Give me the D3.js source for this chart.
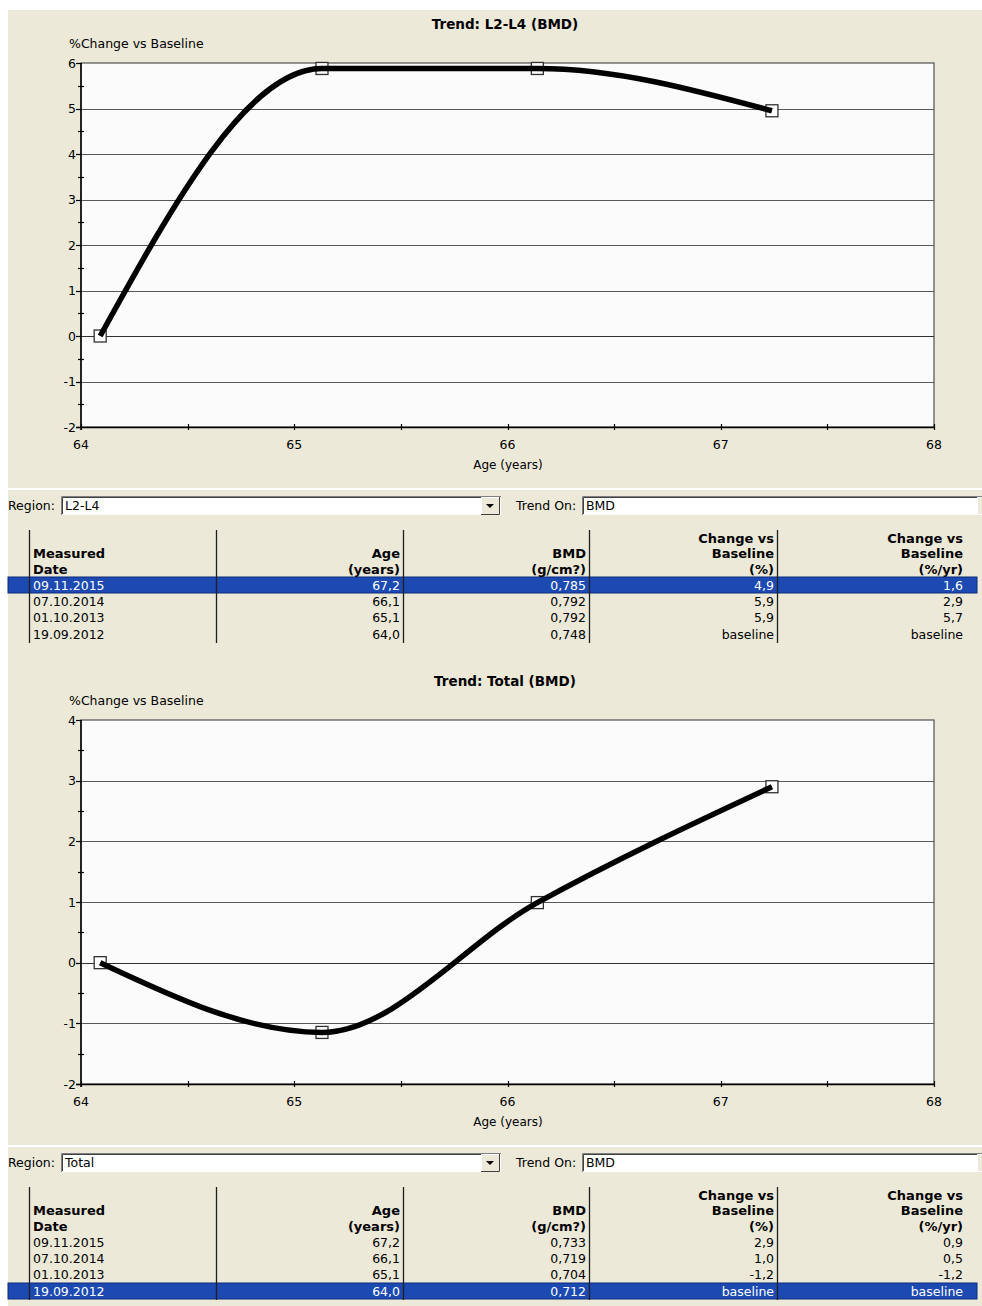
<!DOCTYPE html>
<html>
<head>
<meta charset="utf-8">
<script src="https://cdn.jsdelivr.net/npm/d3@7"></script>
<style>
  html, body { margin: 0; padding: 0; background: #ffffff; }
  svg { display: block; }
  text { font-family: "DejaVu Sans", sans-serif; font-size: 12px; fill: #000; }
  .bold { font-weight: bold; font-size: 13px; }
  .title { font-weight: bold; font-size: 13.5px; }
  .cell { font-size: 12.5px; }
  .lbl { font-size: 12.5px; }
</style>
</head>
<body>
<svg id="chart" width="982" height="1306"></svg>
<script>
// ---------------- DATA ----------------
const ages = [64.09, 65.13, 66.14, 67.24];
const l2l4Change = [0, 5.88, 5.88, 4.95];
const totalChange = [0, -1.15, 0.99, 2.9];
const xTicks = [64, 65, 66, 67, 68];
const l2l4YTicks = [-2, -1, 0, 1, 2, 3, 4, 5, 6];
const totalYTicks = [-2, -1, 0, 1, 2, 3, 4];
const chartTitles = ["Trend: L2-L4 (BMD)", "Trend: Total (BMD)"];
const regions = ["L2-L4", "Total"];
const trendOn = "BMD";
const yAxisTitle = "%Change vs Baseline";
const xAxisTitle = "Age (years)";

const dates = ["09.11.2015", "07.10.2014", "01.10.2013", "19.09.2012"];
const ageLabels = ["67,2", "66,1", "65,1", "64,0"];
const l2l4BMD = ["0,785", "0,792", "0,792", "0,748"];
const l2l4ChangePct = ["4,9", "5,9", "5,9", "baseline"];
const l2l4ChangeYr = ["1,6", "2,9", "5,7", "baseline"];
const totalBMD = ["0,733", "0,719", "0,704", "0,712"];
const totalChangePct = ["2,9", "1,0", "-1,2", "baseline"];
const totalChangeYr = ["0,9", "0,5", "-1,2", "baseline"];
const selectedRow = [0, 3];

const headers = [
  ["Measured", "Date"],
  ["Age", "(years)"],
  ["BMD", "(g/cm?)"],
  ["Change vs", "Baseline", "(%)"],
  ["Change vs", "Baseline", "(%/yr)"]
];

// ---------------- LAYOUT ----------------
const svg = d3.select("#chart");
const BEIGE = "#ECE9D8";
const BLOCK = 657;

svg.append("rect").attr("x", 8).attr("y", 10).attr("width", 974).attr("height", 1296).attr("fill", BEIGE);

function drawChart(off, values, yTicks, yDomain, title) {
  const g = svg.append("g").attr("transform", `translate(0,${off})`);
  const left = 81, right = 934, top = 63, bottom = 427;
  const x = d3.scaleLinear().domain([64, 68]).range([left, right]);
  const y = d3.scaleLinear().domain(yDomain).range([bottom, top]);

  g.append("rect").attr("x", left).attr("y", top).attr("width", right - left).attr("height", bottom - top)
    .attr("fill", "#FBFBFB").attr("stroke", "#505050").attr("stroke-width", 1.2);

  // grid
  g.append("g").selectAll("line").data(yTicks.filter(t => t !== yDomain[0] && t !== yDomain[1])).join("line")
    .attr("x1", left).attr("x2", right)
    .attr("y1", d => Math.round(y(d)) + 0.5).attr("y2", d => Math.round(y(d)) + 0.5)
    .attr("stroke", d => d === 0 ? "#303030" : "#585858").attr("stroke-width", 1.2);

  // y axis
  const yMinor = d3.range(yDomain[0], yDomain[1] + 0.001, 0.5);
  g.append("line").attr("x1", left).attr("x2", left).attr("y1", top).attr("y2", bottom + 3).attr("stroke", "#000").attr("stroke-width", 1.5);
  g.append("g").selectAll("line").data(yMinor).join("line")
    .attr("x1", d => Number.isInteger(d) ? left - 5 : left - 3).attr("x2", d => Number.isInteger(d) ? left + 1 : left + 3)
    .attr("y1", d => Math.round(y(d)) + 0.5).attr("y2", d => Math.round(y(d)) + 0.5)
    .attr("stroke", "#000").attr("stroke-width", 1.2);
  g.append("g").selectAll("text").data(yTicks).join("text")
    .attr("class", "lbl")
    .attr("x", left - 5).attr("y", d => y(d)).attr("dy", "0.36em").attr("text-anchor", "end")
    .text(d => d);

  // x axis
  const xMinor = d3.range(64, 68.001, 0.5);
  g.append("line").attr("x1", left - 5).attr("x2", right).attr("y1", bottom + 0.5).attr("y2", bottom + 0.5).attr("stroke", "#000").attr("stroke-width", 1.5);
  g.append("g").selectAll("line").data(xMinor).join("line")
    .attr("x1", d => Math.round(x(d)) + 0.5).attr("x2", d => Math.round(x(d)) + 0.5)
    .attr("y1", bottom - 3).attr("y2", bottom + 3)
    .attr("stroke", "#000").attr("stroke-width", 1.2);
  g.append("g").selectAll("text").data(xTicks).join("text")
    .attr("class", "lbl")
    .attr("x", d => x(d)).attr("y", bottom + 17).attr("dy", "0.36em").attr("text-anchor", "middle")
    .text(d => d);

  g.append("text").attr("x", 508).attr("y", 465).attr("dy", "0.36em").attr("text-anchor", "middle").text(xAxisTitle);
  g.append("text").attr("class", "lbl").attr("x", 69).attr("y", 43).attr("dy", "0.36em").text(yAxisTitle);
  g.append("text").attr("class", "title").attr("x", 505).attr("y", 24).attr("dy", "0.36em").attr("text-anchor", "middle").text(title);

  const pts = ages.map((a, i) => [a, values[i]]);
  // markers
  g.append("g").selectAll("rect").data(pts).join("rect")
    .attr("x", d => x(d[0]) - 6).attr("y", d => y(d[1]) - 6).attr("width", 12).attr("height", 12)
    .attr("fill", "#fff").attr("stroke", "#303030").attr("stroke-width", 1.3);
  // line
  const line = d3.line().x(d => x(d[0])).y(d => y(d[1])).curve(d3.curveMonotoneX);
  g.append("path").attr("d", line(pts)).attr("fill", "none").attr("stroke", "#000").attr("stroke-width", 5.5).attr("stroke-linejoin", "round");
}

function drawControls(off, region) {
  const g = svg.append("g").attr("transform", `translate(0,${off})`);
  g.append("rect").attr("x", 8).attr("y", 488).attr("width", 974).attr("height", 2).attr("fill", "#fff");
  // Region
  g.append("text").attr("class", "lbl").attr("x", 8).attr("y", 505).attr("dy", "0.36em").text("Region:");
  g.append("rect").attr("x", 61).attr("y", 496).attr("width", 440).attr("height", 19).attr("fill", "#fff");
  g.append("path").attr("d", "M61.5,515 V496.5 H501").attr("fill", "none").attr("stroke", "#808080");
  g.append("path").attr("d", "M62.5,514 V497.5 H500").attr("fill", "none").attr("stroke", "#404040");
  g.append("text").attr("class", "lbl").attr("x", 65).attr("y", 505).attr("dy", "0.36em").text(region);
  // button
  g.append("rect").attr("x", 481).attr("y", 497).attr("width", 18).attr("height", 17).attr("fill", BEIGE);
  g.append("path").attr("d", "M481.5,514 V497.5 H499").attr("fill", "none").attr("stroke", "#fff");
  g.append("path").attr("d", "M481,514.5 H499.5 V497").attr("fill", "none").attr("stroke", "#404040");
  g.append("path").attr("d", "M486,504 h8 l-4,4 z").attr("fill", "#000");
  // Trend On
  g.append("text").attr("class", "lbl").attr("x", 516).attr("y", 505).attr("dy", "0.36em").text("Trend On:");
  g.append("rect").attr("x", 582).attr("y", 496).attr("width", 400).attr("height", 19).attr("fill", "#fff");
  g.append("path").attr("d", "M582.5,515 V496.5 H982").attr("fill", "none").attr("stroke", "#808080");
  g.append("path").attr("d", "M583.5,514 V497.5 H982").attr("fill", "none").attr("stroke", "#404040");
  g.append("text").attr("class", "lbl").attr("x", 586).attr("y", 505).attr("dy", "0.36em").text(trendOn);
  g.append("rect").attr("x", 977).attr("y", 497).attr("width", 5).attr("height", 17).attr("fill", BEIGE);
  g.append("path").attr("d", "M977.5,514 V497.5 H982").attr("fill", "none").attr("stroke", "#fff");
}

function drawTable(off, cols, sel) {
  const g = svg.append("g").attr("transform", `translate(0,${off})`);
  const seps = [29, 216, 403, 589, 777];
  const rightX = [33, 400, 586, 774, 963];
  const rowY = [585, 601, 617, 634];
  const headY3 = [538, 553, 569];
  const sy = rowY[sel];
  g.append("rect").attr("x", 8).attr("y", sy - 8).attr("width", 969).attr("height", 16)
    .attr("fill", "#1C4AB2").attr("stroke", "#0A2A7C").attr("stroke-width", 1);
  g.append("g").selectAll("line").data(seps).join("line")
    .attr("x1", d => d + 0.5).attr("x2", d => d + 0.5).attr("y1", 530).attr("y2", 643)
    .attr("stroke", "#202020").attr("stroke-width", 1.3);
  headers.forEach((h, ci) => {
    const ys = h.length === 3 ? headY3 : headY3.slice(1);
    h.forEach((t, li) => {
      g.append("text").attr("class", "bold").attr("x", rightX[ci]).attr("y", ys[li]).attr("dy", "0.36em")
        .attr("text-anchor", ci === 0 ? "start" : "end").text(t);
    });
  });
  cols.forEach((col, ci) => {
    g.append("g").selectAll("text").data(col).join("text")
      .attr("class", "cell")
      .attr("x", rightX[ci]).attr("y", (d, i) => rowY[i]).attr("dy", "0.36em")
      .attr("text-anchor", ci === 0 ? "start" : "end")
      .style("fill", (d, i) => i === sel ? "#fff" : "#000")
      .text(d => d);
  });
}

drawChart(0, l2l4Change, l2l4YTicks, [-2, 6], chartTitles[0]);
drawControls(0, regions[0]);
drawTable(0, [dates, ageLabels, l2l4BMD, l2l4ChangePct, l2l4ChangeYr], selectedRow[0]);
drawChart(BLOCK, totalChange, totalYTicks, [-2, 4], chartTitles[1]);
drawControls(BLOCK, regions[1]);
drawTable(BLOCK, [dates, ageLabels, totalBMD, totalChangePct, totalChangeYr], selectedRow[1]);
</script>
</body>
</html>
